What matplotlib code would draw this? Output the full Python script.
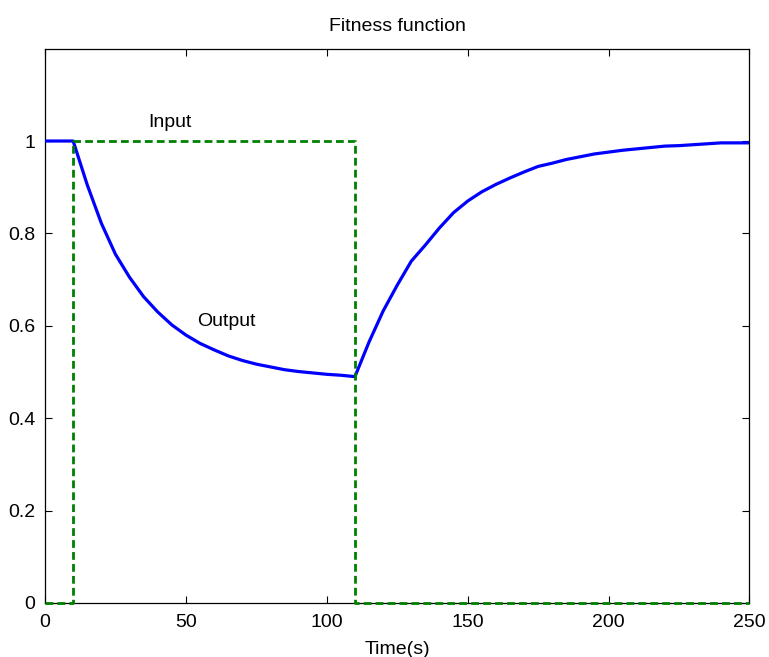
import numpy as np
import matplotlib.pyplot as plt

plt.rcParams['font.family'] = ['Liberation Sans', 'DejaVu Sans']

# step input: 1 between t=10 and t=110 s
input_t = [0, 10, 10, 110, 110, 250]
input_y = [0, 0, 1, 1, 0, 0]

# fitness output, sampled every 5 s
out_t = list(range(0, 255, 5))
out_y = [1.0, 1.0, 1.0, 0.905, 0.822, 0.755, 0.705, 0.663, 0.630, 0.602,
         0.580, 0.562, 0.548, 0.535, 0.525, 0.517, 0.511, 0.505, 0.501, 0.498,
         0.495, 0.493, 0.490, 0.565, 0.632, 0.688, 0.740, 0.775, 0.812, 0.845,
         0.870, 0.890, 0.906, 0.920, 0.933, 0.945, 0.952, 0.960, 0.966, 0.972,
         0.976, 0.980, 0.983, 0.986, 0.989, 0.990, 0.992, 0.994, 0.996, 0.996,
         0.996]

fs = 14

fig = plt.figure(figsize=(7.69, 6.57), dpi=100)
ax = fig.add_axes([0.0585, 0.0822, 0.9161, 0.8438])

ax.plot(out_t, out_y, color='#0000ff', lw=2.3, zorder=3)
ax.plot(input_t, input_y, color='#008000', lw=2.0, dashes=(2.8, 1.5), zorder=4,
        clip_on=False)

ax.text(36.6, 1.041, 'Input', fontsize=fs, va='center', ha='left')
ax.text(54, 0.61, 'Output', fontsize=fs, va='center', ha='left')

ax.set_xlim(0, 250)
ax.set_ylim(0, 1.2)
ax.set_xticks([0, 50, 100, 150, 200, 250])
ax.set_yticks([0, 0.2, 0.4, 0.6, 0.8, 1])
ax.set_yticklabels(['0', '0.2', '0.4', '0.6', '0.8', '1'])
ax.tick_params(direction='in', length=5, width=0.8, top=True, right=True,
               labelsize=fs)
ax.tick_params(axis='x', pad=8)
ax.tick_params(axis='y', pad=7)
for s in ax.spines.values():
    s.set_linewidth(0.9)

ax.set_title('Fitness function', fontsize=fs, pad=13)
ax.set_xlabel('Time(s)', fontsize=fs, labelpad=7)

plt.savefig('out.png', dpi=100)
